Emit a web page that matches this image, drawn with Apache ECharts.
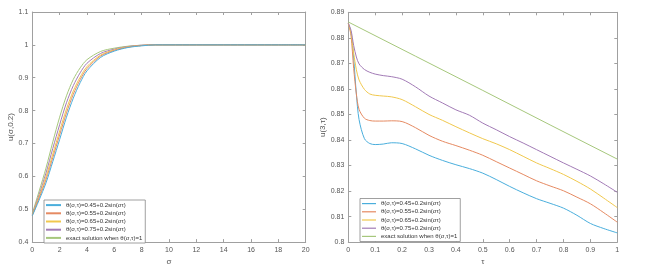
<!DOCTYPE html>
<html><head><meta charset="utf-8">
<script src="https://cdn.jsdelivr.net/npm/echarts@6/dist/echarts.min.js"></script>
<style>html,body{margin:0;padding:0;background:#fff}#c{width:657px;height:271px}</style>
</head><body><div id="c"></div>
<script>
// ---- data ----
const names = [
  'θ(σ,τ)=0.45+0.2sin(στ)',
  'θ(σ,τ)=0.55+0.2sin(στ)',
  'θ(σ,τ)=0.65+0.2sin(στ)',
  'θ(σ,τ)=0.75+0.2sin(στ)',
  'exact solution when θ(σ,τ)=1'
];
// Left panel: u(σ,0.2)
const sigma = [0,0.5,1,1.5,2,2.5,3,3.5,4,5,6,7,8,9,10,12,14,16,18,20];
const uS045 = [0.480,0.528,0.580,0.645,0.712,0.780,0.838,0.885,0.921,0.962,0.981,0.992,0.997,1,1,1,1,1,1,1];
const uS055 = [0.481,0.534,0.590,0.657,0.726,0.793,0.850,0.894,0.928,0.966,0.983,0.993,0.998,1,1,1,1,1,1,1];
const uS065 = [0.482,0.539,0.599,0.668,0.738,0.805,0.860,0.902,0.934,0.969,0.985,0.994,0.998,1,1,1,1,1,1,1];
const uS075 = [0.484,0.545,0.610,0.685,0.757,0.824,0.876,0.915,0.944,0.974,0.987,0.995,0.999,1,1,1,1,1,1,1];
const uSex  = [0.487,0.555,0.625,0.705,0.780,0.845,0.895,0.930,0.955,0.980,0.990,0.996,0.999,1,1,1,1,1,1,1];
// Right panel: u(3,τ)
const tau = [0,0.01,0.02,0.03,0.04,0.06,0.08,0.1,0.13,0.16,0.2,0.25,0.3,0.35,0.4,0.45,0.5,0.55,0.6,0.65,0.7,0.75,0.8,0.85,0.9,0.95,1];
const uT045 = [0.8857,0.882,0.872,0.858,0.848,0.8405,0.8386,0.8382,0.8384,0.8389,0.8386,0.8365,0.834,0.832,0.8303,0.8288,0.827,0.8245,0.8218,0.8193,0.817,0.8152,0.8133,0.8105,0.8073,0.8053,0.8036];
const uT055 = [0.8857,0.881,0.868,0.858,0.852,0.8485,0.8476,0.8474,0.8474,0.8475,0.8472,0.8448,0.8418,0.8395,0.8378,0.836,0.834,0.8315,0.829,0.8265,0.824,0.822,0.8201,0.8176,0.815,0.8115,0.8078];
const uT065 = [0.8857,0.882,0.874,0.8675,0.8635,0.8598,0.858,0.8575,0.8572,0.8569,0.8558,0.853,0.850,0.8477,0.8452,0.8428,0.8405,0.8385,0.8362,0.8336,0.831,0.8288,0.8265,0.8238,0.8208,0.8172,0.8135];
const uT075 = [0.8857,0.883,0.877,0.8725,0.8698,0.8676,0.8665,0.8658,0.8652,0.8648,0.8638,0.8608,0.8572,0.8545,0.8518,0.8497,0.8466,0.844,0.8413,0.8388,0.8362,0.8336,0.831,0.8285,0.8259,0.8228,0.8195];
const tauExact = [0,0.25,0.5,0.75,1];
const uTex = [0.8862,0.8728,0.8594,0.8459,0.8325];

const colors = ['#4aaedc','#e58a62','#f0c84e','#a27bb6','#a6c77c'];
const FONT = 'Liberation Sans, Arial, sans-serif';
const TXT = '#555';
const AX = '#a0a0a0';

function zip(xs, ys){ return xs.map((x,i)=>[x,ys[i]]); }
function fmt(d){ return v => String(+(+v).toFixed(d)); }

function xAx(grid, min, max, interval, pos, name, dec){
  return {
    type:'value', gridIndex:grid, min, max, interval, position:pos,
    name: pos==='bottom'? name : '', nameLocation:'middle', nameGap:12,
    nameTextStyle:{fontFamily:FONT,fontSize:8,color:TXT},
    axisLine:{show:true,onZero:false,lineStyle:{color:AX,width:1}},
    axisTick:{show:true,inside:true,length:3,lineStyle:{color:AX}},
    axisLabel:{show:pos==='bottom',fontFamily:FONT,fontSize:7,color:TXT,margin:4,formatter:fmt(dec)},
    splitLine:{show:false}
  };
}
function yAx(grid, min, max, interval, pos, name, gap, dec){
  return {
    type:'value', gridIndex:grid, min, max, interval, position:pos,
    name: pos==='left'? name : '', nameLocation:'middle', nameGap:gap, nameRotate:90,
    nameTextStyle:{fontFamily:FONT,fontSize:8,color:TXT},
    axisLine:{show:true,onZero:false,lineStyle:{color:AX,width:1}},
    axisTick:{show:true,inside:true,length:3,lineStyle:{color:AX}},
    axisLabel:{show:pos==='left',fontFamily:FONT,fontSize:7,color:TXT,margin:4,formatter:fmt(dec)},
    splitLine:{show:false}
  };
}

const leftSets = [uS045,uS055,uS065,uS075,uSex];
const rightSets = [uT045,uT055,uT065,uT075];

const series = [];
leftSets.forEach((arr,i)=>{
  series.push({type:'line',name:names[i],xAxisIndex:0,yAxisIndex:0,data:zip(sigma,arr),
    showSymbol:false,smooth:0.3,color:colors[i],lineStyle:{width:1,color:colors[i]},z:10-i});
});
rightSets.forEach((arr,i)=>{
  series.push({type:'line',name:names[i],xAxisIndex:2,yAxisIndex:2,data:zip(tau,arr),
    showSymbol:false,smooth:0.3,color:colors[i],lineStyle:{width:1,color:colors[i]}});
});
series.push({type:'line',name:names[4],xAxisIndex:2,yAxisIndex:2,data:zip(tauExact,uTex),
  showSymbol:false,smooth:false,color:colors[4],lineStyle:{width:1,color:colors[4]}});

function legend(left, top, iw, ih){
  return {
    orient:'vertical', left, top, data:names, icon:'rect', itemWidth:iw, itemHeight:ih,
    itemGap:0, padding:[1,3,1,2], borderColor:'#888', borderWidth:0.8, backgroundColor:'#fff',
    selectedMode:false,
    textStyle:{fontFamily:FONT,fontSize:6,color:'#333',lineHeight:8.2}
  };
}

const option = {
  animation:false,
  grid:[
    {left:32.3,right:351.3,top:12,bottom:26,show:false},
    {left:348.3,right:39.7,top:12.3,bottom:27.7,show:false}
  ],
  xAxis:[
    xAx(0,0,20,2,'bottom','σ',0),
    xAx(0,0,20,2,'top','',0),
    xAx(1,0,1,0.1,'bottom','τ',1),
    xAx(1,0,1,0.1,'top','',1)
  ],
  yAxis:[
    yAx(0,0.4,1.1,0.1,'left','u(σ,0.2)',18,1),
    yAx(0,0.4,1.1,0.1,'right','',0,1),
    yAx(1,0.8,0.89,0.01,'left','u(3,τ)',16,2),
    yAx(1,0.8,0.89,0.01,'right','',0,2)
  ],
  legend:[ legend(44,200,15,2), legend(360,198.5,14,1.2) ],
  series
};
const chart = echarts.init(document.getElementById('c'),null,{renderer:'canvas'});
chart.setOption(option);
</script>
</body></html>
